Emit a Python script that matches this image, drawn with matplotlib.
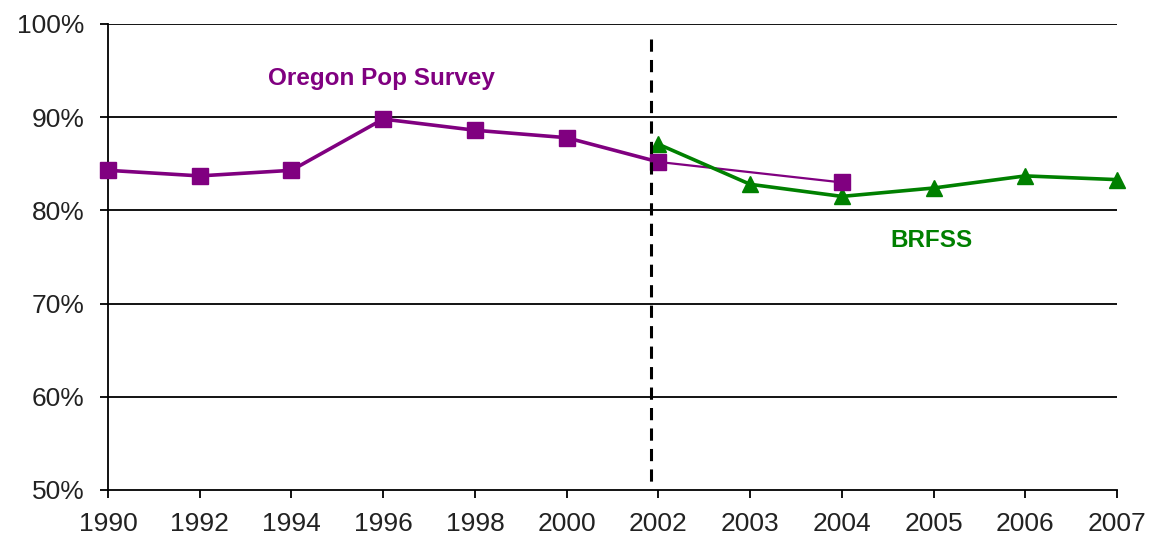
import matplotlib
matplotlib.use("Agg")
import matplotlib.pyplot as plt

years = ["1990", "1992", "1994", "1996", "1998", "2000", "2002",
         "2003", "2004", "2005", "2006", "2007"]
oregon_years = ["1990", "1992", "1994", "1996", "1998", "2000", "2002"]
oregon = [84.3, 83.7, 84.3, 89.8, 88.6, 87.8, 85.2]
oregon_late_years = ["2002", "2004"]
oregon_late = [85.2, 83.0]
brfss_years = ["2002", "2003", "2004", "2005", "2006", "2007"]
brfss = [87.1, 82.8, 81.5, 82.4, 83.7, 83.3]
yticks = [50, 60, 70, 80, 90, 100]

PURPLE = "#800080"
GREEN = "#008000"

plt.rcParams["font.family"] = ["Liberation Sans", "DejaVu Sans"]

pos = {y: i for i, y in enumerate(years)}

fig = plt.figure(figsize=(11.52, 5.44), dpi=100)
ax = fig.add_axes([0.09375, 0.0993, 0.8759, 0.8566])

for v in yticks[1:]:
    ax.axhline(v, color="black", lw=1.3, zorder=1)

# thin connector for the later Oregon point
ax.plot([pos[y] for y in oregon_late_years], oregon_late, color=PURPLE, lw=1.6,
        zorder=3, clip_on=False)
ax.plot([pos[y] for y in oregon_late_years][-1:], oregon_late[-1:], color=PURPLE,
        marker="s", markersize=11, ls="none", zorder=4, clip_on=False)
ax.plot([pos[y] for y in brfss_years], brfss, color=GREEN, lw=2.6,
        marker="^", markersize=12, zorder=3, clip_on=False)
ax.plot([pos[y] for y in oregon_years], oregon, color=PURPLE, lw=2.6,
        marker="s", markersize=11, zorder=4, clip_on=False)

# survey switch marker, dashes start at the top
ax.plot([5.92, 5.92], [98.4, 50], color="black", lw=2.2,
        ls=(0, (4, 2.7)), zorder=5)

ax.text(1.745, 94.2, "Oregon Pop Survey", color=PURPLE, fontsize=17.5,
        fontweight="bold", ha="left", va="center")
ax.text(8.53, 76.8, "BRFSS", color=GREEN, fontsize=17.5,
        fontweight="bold", ha="left", va="center")

ax.set_xlim(0, len(years) - 1)
ax.set_ylim(50, 100)
ax.set_xticks(range(len(years)))
ax.set_xticklabels(years)
ax.set_yticks(yticks)
ax.set_yticklabels([f"{v}%" for v in yticks])
ax.tick_params(axis="both", labelsize=19, colors="black", width=1.3, length=6,
               labelcolor="#222222")
ax.tick_params(axis="x", pad=10)
ax.tick_params(axis="y", pad=11)
for s in ["top", "right"]:
    ax.spines[s].set_visible(False)
for s in ["left", "bottom"]:
    ax.spines[s].set_linewidth(1.3)

fig.savefig("out.png", dpi=100)
